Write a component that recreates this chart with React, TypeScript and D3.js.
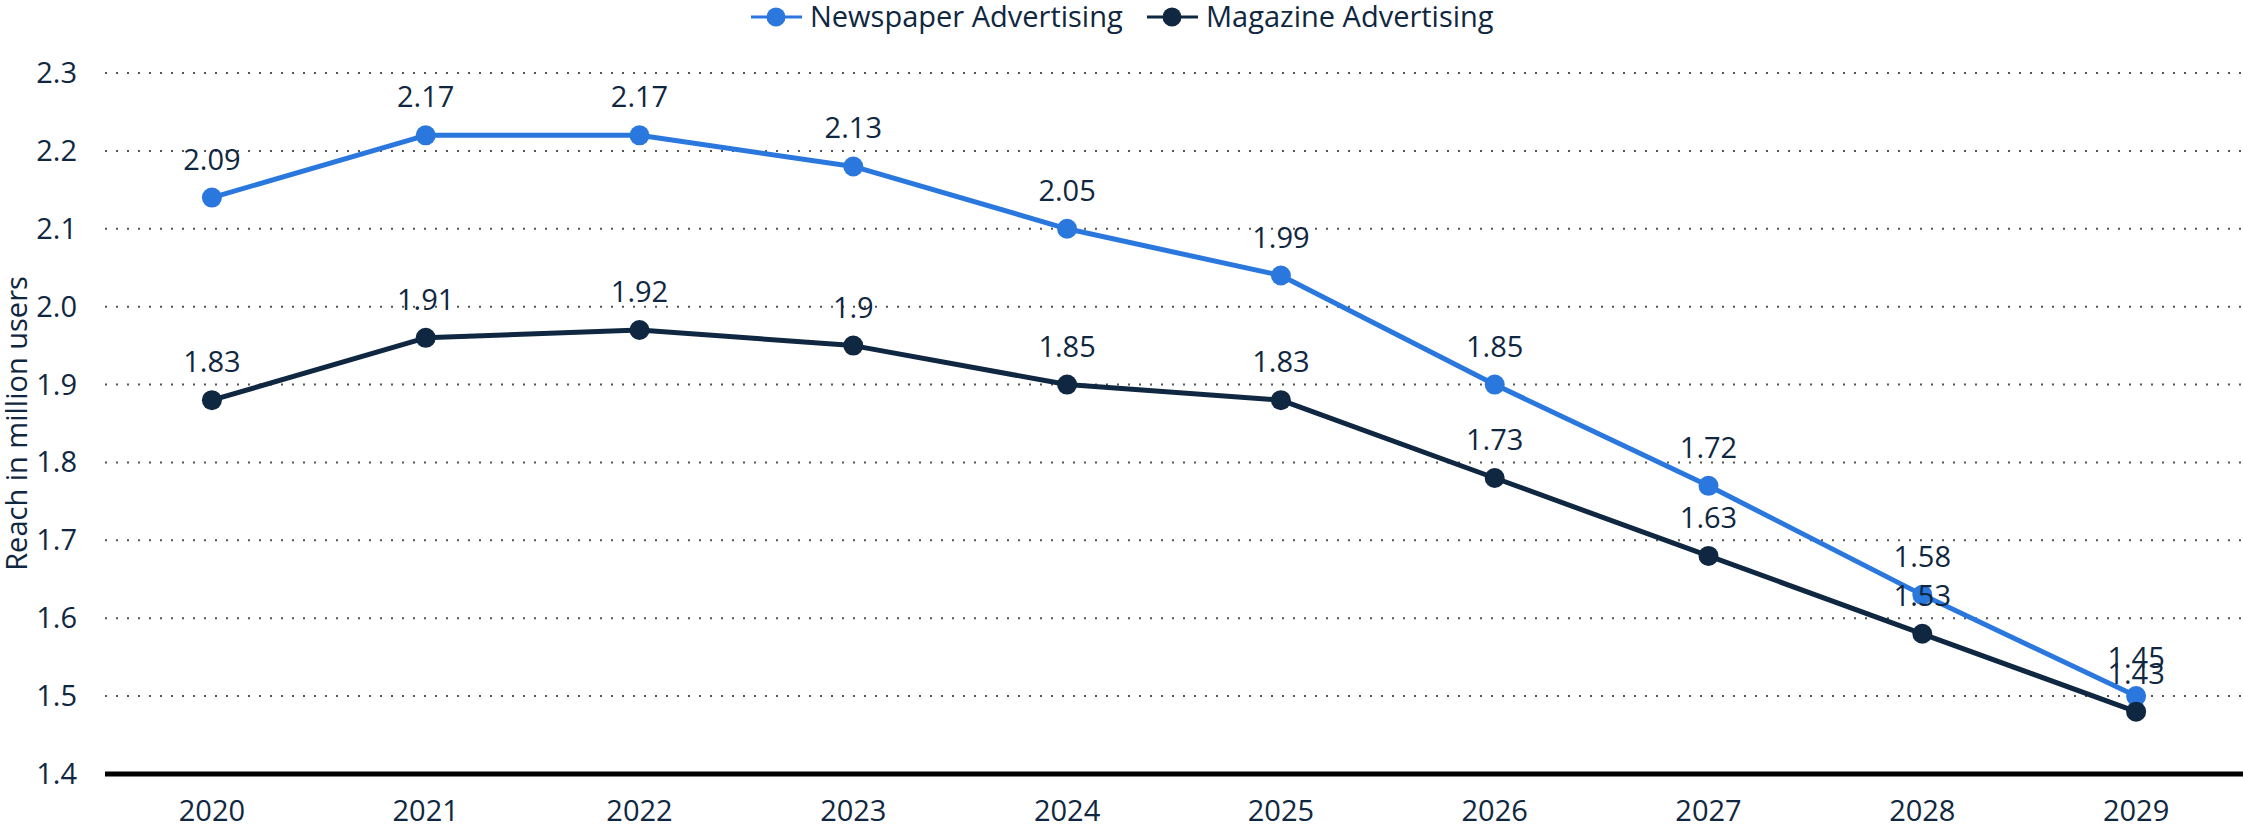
import React from "react";
import * as d3 from "d3";

const years = ["2020", "2021", "2022", "2023", "2024", "2025", "2026", "2027", "2028", "2029"];
const newspaper = [2.09, 2.17, 2.17, 2.13, 2.05, 1.99, 1.85, 1.72, 1.58, 1.45];
const magazine = [1.83, 1.91, 1.92, 1.9, 1.85, 1.83, 1.73, 1.63, 1.53, 1.43];
const tickLabels = ["1.4", "1.5", "1.6", "1.7", "1.8", "1.9", "2.0", "2.1", "2.2", "2.3"];

const W = 2243;
const H = 829;
const FONT = "'Open Sans', sans-serif";
const TEXT = "#0f2740";
const BLUE = "#2a77dd";
const DARK = "#0f2740";

export default function App() {
  const x = d3.scaleBand<string>().domain(years).range([105, W]).padding(0);
  // axis in the original is shifted: ticks labelled 1.4..2.3 sit at domain 1.35..2.25
  const y = d3.scaleLinear().domain([1.35, 2.25]).range([774, 73]);
  const tickVals = tickLabels.map((_, i) => 1.35 + i * 0.1);
  const cx = (d: string) => (x(d) as number) + x.bandwidth() / 2;

  const series = [
    { name: "Newspaper Advertising", values: newspaper, color: BLUE },
    { name: "Magazine Advertising", values: magazine, color: DARK },
  ];

  const line = d3
    .line<number>()
    .x((_, i) => cx(years[i]))
    .y((v) => y(v));

  const legendItems = [
    { name: series[0].name, color: BLUE, x0: 751 },
    { name: series[1].name, color: DARK, x0: 1147 },
  ];

  return (
    <svg
      width={W}
      height={H}
      style={{ position: "absolute", left: 0, top: 0, background: "#fff" }}
      fontFamily={FONT}
    >
      {/* gridlines */}
      {tickVals.map((v, i) =>
        i === 0 ? null : (
          <line
            key={"g" + i}
            x1={105}
            x2={W}
            y1={y(v)}
            y2={y(v)}
            stroke="#555"
            strokeWidth={2}
            strokeDasharray="2 9"
          />
        )
      )}
      {/* y tick labels */}
      {tickVals.map((v, i) => (
        <text
          key={"t" + i}
          x={77}
          y={y(v) + 10}
          textAnchor="end"
          fontSize={29}
          fill={TEXT}
        >
          {tickLabels[i]}
        </text>
      ))}
      {/* y title */}
      <text
        transform={`translate(27, ${y(1.8)}) rotate(-90)`}
        textAnchor="middle"
        fontSize={29}
        fill={TEXT}
      >
        Reach in million users
      </text>
      {/* baseline */}
      <line x1={105} x2={W} y1={y(1.35)} y2={y(1.35)} stroke="#000" strokeWidth={5} />
      {/* x tick labels */}
      {years.map((yr) => (
        <text key={yr} x={cx(yr)} y={821} textAnchor="middle" fontSize={29} fill={TEXT}>
          {yr}
        </text>
      ))}
      {/* lines */}
      {series.map((s) => (
        <path
          key={s.name}
          d={line(s.values) || ""}
          fill="none"
          stroke={s.color}
          strokeWidth={5}
          strokeLinejoin="round"
        />
      ))}
      {/* markers */}
      {series.map((s) =>
        s.values.map((v, i) => (
          <circle key={s.name + i} cx={cx(years[i])} cy={y(v)} r={10} fill={s.color} />
        ))
      )}
      {/* data labels */}
      {series.map((s) =>
        s.values.map((v, i) => (
          <text
            key={"l" + s.name + i}
            x={cx(years[i])}
            y={y(v) - 28}
            textAnchor="middle"
            fontSize={29}
            fill={TEXT}
          >
            {String(v)}
          </text>
        ))
      )}
      {/* legend */}
      {legendItems.map((it) => (
        <g key={it.name}>
          <line x1={it.x0} x2={it.x0 + 51} y1={17} y2={17} stroke={it.color} strokeWidth={3} />
          <circle cx={it.x0 + 25} cy={17} r={9.5} fill={it.color} />
          <text x={it.x0 + 59} y={27} fontSize={29} fill={TEXT}>
            {it.name}
          </text>
        </g>
      ))}
    </svg>
  );
}
